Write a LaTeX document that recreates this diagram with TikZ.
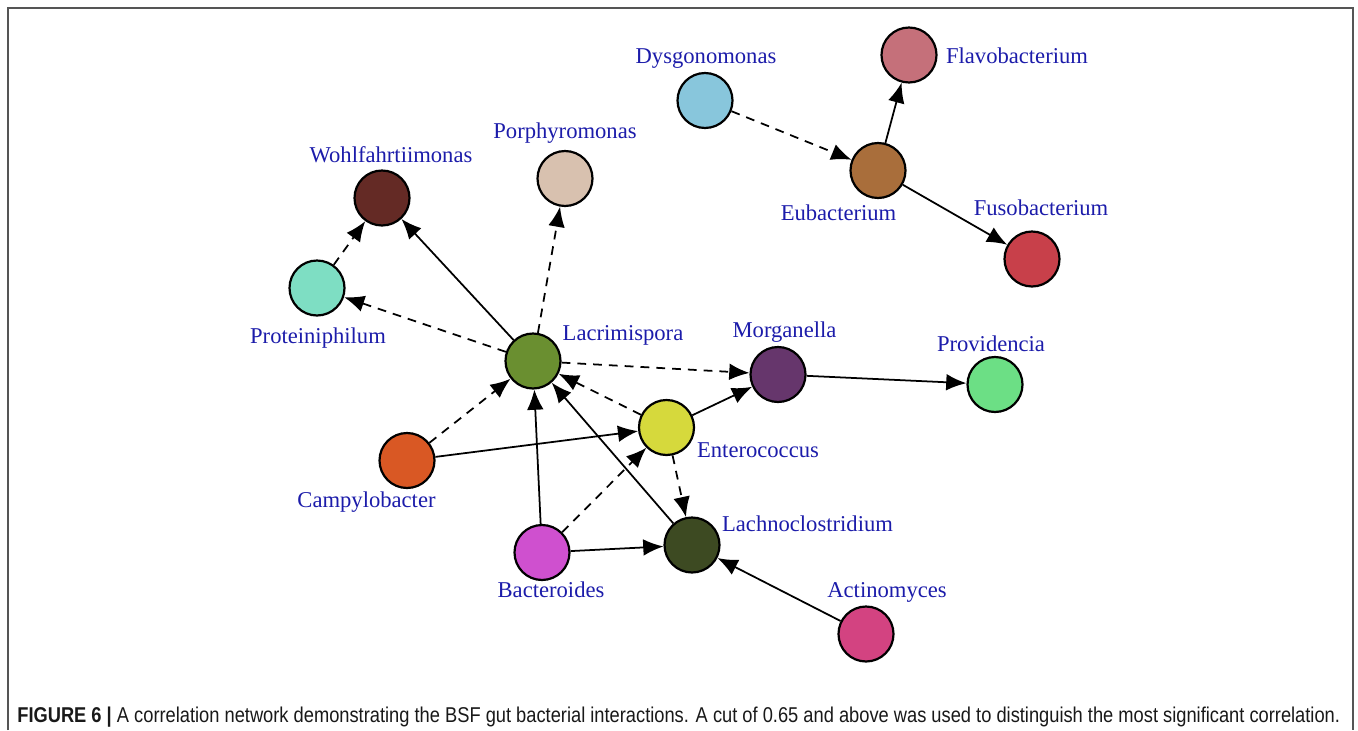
\documentclass[tikz,border=0pt]{standalone}
\usepackage{fontspec}
\setmainfont{Liberation Serif}
\newfontfamily\capfont{Liberation Sans}
\usetikzlibrary{arrows.meta}
\definecolor{lbl}{RGB}{28,28,170}
\definecolor{cDys}{HTML}{88C6DC}
\definecolor{cFla}{HTML}{C5707A}
\definecolor{cEub}{HTML}{A96E3B}
\definecolor{cFus}{HTML}{C8404A}
\definecolor{cPor}{HTML}{D8C1AF}
\definecolor{cWoh}{HTML}{642A25}
\definecolor{cPro}{HTML}{7EDEC3}
\definecolor{cLac}{HTML}{6A8F30}
\definecolor{cMor}{HTML}{66366C}
\definecolor{cPrv}{HTML}{6CDF85}
\definecolor{cEnt}{HTML}{D6D93C}
\definecolor{cCam}{HTML}{D95824}
\definecolor{cBac}{HTML}{CF50CF}
\definecolor{cLch}{HTML}{3D4A22}
\definecolor{cAct}{HTML}{D34381}
\definecolor{framegray}{HTML}{555555}
\begin{document}
\begin{tikzpicture}[x=0.02cm,y=-0.02cm,
  bnode/.style={circle,draw=black,line width=1.25pt,minimum size=1.1cm,inner sep=0pt},
  blabel/.style={anchor=base,text=lbl,font=\fontsize{12.87}{15}\selectfont,inner sep=0pt},
  solidedge/.style={line width=1pt,-{Latex[length=11.5pt,width=9.5pt]}},
  dashededge/.style={line width=1pt,dash pattern=on 5pt off 4pt,-{Latex[length=11.5pt,width=9.5pt]}}]
\useasboundingbox (0,0) rectangle (1358,730);
% frame
\draw[framegray,line width=1.2pt] (8,730) -- (8,8) -- (1353,8) -- (1353,730);
% nodes
\node[bnode,fill=cDys] (dys) at (705,100.5) {};
\node[bnode,fill=cFla] (fla) at (909,55) {};
\node[bnode,fill=cEub] (eub) at (878,170.5) {};
\node[bnode,fill=cFus] (fus) at (1032,259) {};
\node[bnode,fill=cPor] (por) at (565,178.5) {};
\node[bnode,fill=cWoh] (woh) at (382,198) {};
\node[bnode,fill=cPro] (pro) at (317,288) {};
\node[bnode,fill=cLac] (lac) at (533,361) {};
\node[bnode,fill=cMor] (mor) at (778,374.5) {};
\node[bnode,fill=cPrv] (prv) at (995,384.5) {};
\node[bnode,fill=cEnt] (ent) at (666.5,427.5) {};
\node[bnode,fill=cCam] (cam) at (407,460.5) {};
\node[bnode,fill=cBac] (bac) at (542,552.5) {};
\node[bnode,fill=cLch] (lch) at (692,545) {};
\node[bnode,fill=cAct] (act) at (866,634) {};
% labels
\node[blabel] (tdys) at (706,63) {Dysgonomonas};
\node[blabel] (tfla) at (1017,63) {Flavobacterium};
\node[blabel] (teub) at (838.5,220) {Eubacterium};
\node[blabel] (tfus) at (1041,215) {Fusobacterium};
\node[blabel] (tpor) at (565,138) {Porphyromonas};
\node[blabel] (twoh) at (391,162) {Wohlfahrtiimonas};
\node[blabel] (tpro) at (318,343) {Proteiniphilum};
\node[blabel] (tlac) at (623,340) {Lacrimispora};
\node[blabel] (tmor) at (784.5,337) {Morganella};
\node[blabel] (tprv) at (991,351) {Providencia};
\node[blabel] (tent) at (758,457) {Enterococcus};
\node[blabel] (tcam) at (366.5,507) {Campylobacter};
\node[blabel] (tbac) at (551,597) {Bacteroides};
\node[blabel] (tlch) at (807.5,531) {Lachnoclostridium};
\node[blabel] (tact) at (887,597) {Actinomyces};
% edges
\draw[dashededge] (dys) -- (eub);
\draw[solidedge] (eub) -- (fla);
\draw[solidedge] (eub) -- (fus);
\draw[dashededge] (pro) -- (woh);
\draw[solidedge] (lac) -- (woh);
\draw[dashededge] (lac) -- (por);
\draw[dashededge] (lac) -- (pro);
\draw[dashededge] (lac) -- (mor);
\draw[dashededge] (cam) -- (lac);
\draw[solidedge] (cam) -- (ent);
\draw[dashededge] (ent) -- (lac);
\draw[solidedge] (ent) -- (mor);
\draw[solidedge] (mor) -- (prv);
\draw[dashededge] (ent) -- (lch);
\draw[solidedge] (bac) -- (lac);
\draw[dashededge] (bac) -- (ent);
\draw[solidedge] (bac) -- (lch);
\draw[solidedge] (lch) -- (lac);
\draw[solidedge] (act) -- (lch);
% caption
\node[anchor=base west,inner sep=0pt,text=black!90] (cap) at (17,722)
  {\resizebox{26.46cm}{\height}{\capfont\fontsize{12.2}{14}\selectfont\textbf{FIGURE 6 |} A correlation network demonstrating the BSF gut bacterial interactions. A cut of 0.65 and above was used to distinguish the most significant correlation.}};
\end{tikzpicture}
\end{document}
